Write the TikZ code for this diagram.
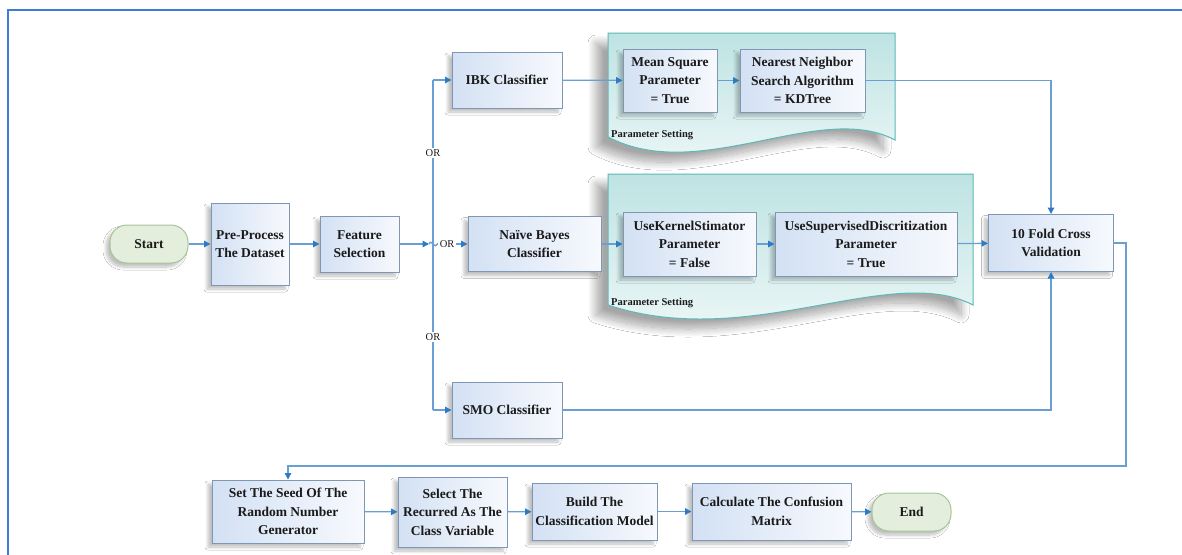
\documentclass[tikz,border=0pt]{standalone}
\usepackage{fontspec}
\setmainfont{Liberation Serif}
\usetikzlibrary{arrows.meta,shadows.blur,calc}

\definecolor{frameblue}{HTML}{3F7BD9}
\definecolor{linec}{HTML}{6A9FD4}
\definecolor{tipc}{HTML}{2B7BC9}
\definecolor{boxb}{HTML}{7D97B5}
\definecolor{boxl}{HTML}{D3E1F4}
\definecolor{boxr}{HTML}{F7F9FD}
\definecolor{termf}{HTML}{E3EFDC}
\definecolor{termb}{HTML}{A8C49A}
\definecolor{panb}{HTML}{5DB8B8}
\definecolor{pant}{HTML}{BEE3E3}
\definecolor{panbt}{HTML}{F2F9F9}
\definecolor{txt}{HTML}{1A1A1A}

\tikzset{
  shad/.style={blur shadow={shadow xshift=-4pt, shadow yshift=-4pt, shadow opacity=25, shadow blur steps=8, shadow blur radius=3pt}},
  box/.style={draw=boxb, line width=1pt, left color=boxl, right color=boxr, inner sep=1pt,
    align=center, text=txt, font=\fontsize{13.5}{18.5}\selectfont\bfseries, shad},
  term/.style={draw=termb, line width=1pt, fill=termf, rounded corners=17pt, inner sep=1pt,
    align=center, text=txt, font=\fontsize{13.5}{18.5}\selectfont\bfseries, shad},
  ln/.style={draw=linec, line width=1.3pt},
  arr/.style={ln, -{Triangle[length=6.5pt,width=6.5pt,color=tipc]}},
  orlab/.style={fill=white, inner sep=1.5pt, text=txt, font=\fontsize{10.5}{12}\selectfont},
  panel/.style={draw=panb, line width=1pt, top color=pant, bottom color=panbt,
    blur shadow={shadow xshift=-12pt, shadow yshift=-10pt, shadow opacity=35, shadow blur steps=16, shadow blur radius=8pt}},
  plab/.style={anchor=west, inner sep=0pt, text=txt, font=\fontsize{10.5}{12}\selectfont\bfseries}
}

\begin{document}
\begin{tikzpicture}[x=1pt,y=-1pt]
\useasboundingbox (0,0) rectangle (1182,554);
\fill[white] (0,0) rectangle (1182,554);
% frame
\draw[frameblue, line width=2pt] (8,556) -- (8,10) -- (1184,10);

% parameter panels
\path[panel] (608,33) -- (895,33) -- (895,140)
  .. controls (820,100) and (700,185) .. (608,137) -- cycle;
\node[plab] (ps1) at (611,135) {Parameter Setting};
\path[panel] (608,174) -- (973,174) -- (973,305)
  .. controls (890,262) and (750,352) .. (608,305) -- cycle;
\node[plab] (ps2) at (611,303) {Parameter Setting};

% nodes
\node[term, minimum width=78pt, minimum height=38pt] (start) at (149,244) {Start};
\node[box, minimum width=78pt, minimum height=82pt] (pre) at (250,244) {Pre-Process\\The Dataset};
\node[box, minimum width=79pt, minimum height=56pt] (fs) at (359.5,244) {Feature\\Selection};
\node[box, minimum width=110pt, minimum height=56pt] (ibk) at (507,80) {IBK Classifier};
\node[box, minimum width=94pt, minimum height=63pt] (ms) at (670,80.5) {Mean Square\\Parameter\\= True};
\node[box, minimum width=125pt, minimum height=63pt] (nn) at (802.5,80.5) {Nearest Neighbor\\Search Algorithm\\= KDTree};
\node[box, minimum width=133pt, minimum height=55pt] (nb) at (534.5,244) {Naïve Bayes\\Classifier};
\node[box, minimum width=133pt, minimum height=64pt] (uk) at (689.5,244) {UseKernelStimator\\Parameter\\= False};
\node[box, minimum width=182pt, minimum height=64pt] (us) at (866,244) {UseSupervisedDiscritization\\Parameter\\= True};
\node[box, minimum width=125pt, minimum height=57pt] (tf) at (1051,243) {10 Fold Cross\\Validation};
\node[box, minimum width=110pt, minimum height=56pt] (smo) at (507,410) {SMO Classifier};
\node[box, minimum width=152pt, minimum height=63pt] (seed) at (288,511.5) {Set The Seed Of The\\Random Number\\Generator};
\node[box, minimum width=109pt, minimum height=70pt] (sel) at (452.5,512) {Select The\\Recurred As The\\Class Variable};
\node[box, minimum width=125pt, minimum height=57pt] (build) at (594.5,511.5) {Build The\\Classification Model};
\node[box, minimum width=159pt, minimum height=57pt] (calc) at (771.5,511.5) {Calculate The Confusion\\Matrix};
\node[term, minimum width=79pt, minimum height=38pt] (end) at (911.5,512) {End};

% junction coordinates
\coordinate (jin) at (429,244);
\coordinate (jout) at (437,244);
\coordinate (vt) at (433,80);
\coordinate (vb) at (433,410);
\coordinate (rr) at (1126,466);

% connectors
\draw[arr] (start) -- (pre);
\draw[arr] (pre) -- (fs);
\draw[arr] (fs.east) -- (jin);
\draw[ln] (jin) .. controls (431,238) and (435,250) .. (jout);
\draw[arr] (jout) -- node[orlab, pos=0.33] (or2) {OR} (nb.west);
\draw[ln] (vt) -- (vb);
\path (vt) -- (vb) node[orlab, pos=0.221] (or1) {OR} node[orlab, pos=0.78] (or3) {OR};
\draw[arr] (vt) -- (ibk.west);
\draw[arr] (vb) -- (smo.west);

\draw[arr] (ibk) -- (ms);
\draw[arr] (ms) -- (nn);
\draw[arr] (nn.east) -| (tf.north);
\draw[arr] (nb) -- (uk);
\draw[arr] (uk) -- (us);
\draw[arr] (us) -- (tf);
\draw[arr] (smo.east) -| (tf.south);
\draw[arr] (tf.east) -| (rr) -| (seed.north);
\draw[arr] (seed) -- (sel);
\draw[arr] (sel) -- (build);
\draw[arr] (build) -- (calc);
\draw[arr] (calc) -- (end);
\end{tikzpicture}
\end{document}
